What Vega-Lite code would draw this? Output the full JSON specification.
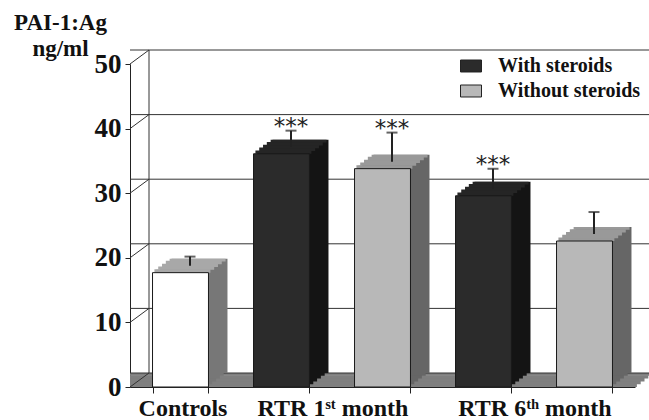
{
  "$schema": "https://vega.github.io/schema/vega-lite/v6.json",
  "width": 505,
  "height": 323,
  "autosize": "none",
  "padding": {"left": 130, "top": 64, "right": 14, "bottom": 33},
  "background": "white",
  "config": {
    "view": {"stroke": null},
    "font": "Liberation Serif",
    "axisY": {
      "titleAngle": 0,
      "titleX": -70,
      "titleY": -35,
      "titleAlign": "center",
      "titleBaseline": "alphabetic",
      "titleFont": "Liberation Serif",
      "titleFontSize": 23,
      "titleFontWeight": "bold",
      "titleLineHeight": 26,
      "titleColor": "#111111",
      "grid": false,
      "tickCount": 5,
      "tickSize": 5,
      "tickColor": "#222222",
      "domainColor": "#222222",
      "labelFont": "Liberation Serif",
      "labelFontSize": 27,
      "labelFontWeight": "bold",
      "labelColor": "#111111",
      "labelPadding": 4,
      "zindex": 1
    }
  },
  "datasets": {
    "bars": [
      {"bar": "C", "group": "Controls", "value": 17.7, "upper": 19.1, "sig": ""},
      {"bar": "R1W", "group": "With steroids", "value": 36.1, "upper": 38.6, "sig": "***"},
      {"bar": "R1N", "group": "Without steroids", "value": 33.8, "upper": 38.3, "sig": "***"},
      {"bar": "R6W", "group": "With steroids", "value": 29.6, "upper": 32.7, "sig": "***"},
      {"bar": "R6N", "group": "Without steroids", "value": 22.6, "upper": 26.0, "sig": ""}
    ],
    "ticks": [{"v": 0}, {"v": 10}, {"v": 20}, {"v": 30}, {"v": 40}, {"v": 50}]
  },
  "layer": [
    {
      "data": {"name": "ticks"},
      "transform": [{"filter": "datum.v === 0"}],
      "encoding": {
        "y": {"field": "v", "type": "quantitative", "title": ["PAI-1:Ag", "ng/ml"], "scale": {"domain": [0, 50], "nice": false}},
        "y2": {"field": "v"}
      },
      "layer": [
        {"mark": {"type": "rect", "fill": "#7f7f7f", "xOffset": 1.9, "x2Offset": 19, "yOffset": -3.4, "y2Offset": 0}},
        {"mark": {"type": "rect", "fill": "#7f7f7f", "xOffset": 5.7, "x2Offset": 19, "yOffset": -6.2, "y2Offset": -2.8}},
        {"mark": {"type": "rect", "fill": "#7f7f7f", "xOffset": 9.5, "x2Offset": 19, "yOffset": -9.0, "y2Offset": -5.6}},
        {"mark": {"type": "rect", "fill": "#7f7f7f", "xOffset": 13.3, "x2Offset": 19, "yOffset": -11.8, "y2Offset": -8.4}},
        {"mark": {"type": "rect", "fill": "#7f7f7f", "xOffset": 17.1, "x2Offset": 19, "yOffset": -14, "y2Offset": -11.2}}
      ]
    },
    {
      "data": {"name": "ticks"},
      "layer": [
        {
          "mark": {"type": "rule", "color": "#333333", "strokeWidth": 1, "xOffset": 19, "x2Offset": 19, "yOffset": -14},
          "encoding": {"y": {"field": "v", "type": "quantitative", "title": ["PAI-1:Ag", "ng/ml"]}}
        },
        {
          "mark": {"type": "rule", "color": "#333333", "strokeWidth": 1, "y2Offset": -14},
          "encoding": {
            "x": {"value": 0},
            "x2": {"value": 19},
            "y": {"field": "v", "type": "quantitative", "title": ["PAI-1:Ag", "ng/ml"]},
            "y2": {"field": "v"}
          }
        },
        {
          "transform": [{"filter": "datum.v === 0"}],
          "mark": {"type": "rule", "color": "#333333", "strokeWidth": 1, "xOffset": 19, "yOffset": -14, "y2Offset": -14},
          "encoding": {
            "x": {"value": 0},
            "y": {"datum": 0, "type": "quantitative", "title": ["PAI-1:Ag", "ng/ml"]},
            "y2": {"datum": 50}
          }
        }
      ]
    },
    {
      "data": {"name": "bars"},
      "encoding": {
        "x": {
          "field": "bar",
          "type": "nominal",
          "sort": ["C", "R1W", "R1N", "R6W", "R6N"],
          "scale": {"paddingInner": 0.446, "paddingOuter": 0.223},
          "axis": {
            "title": null,
            "labelExpr": "datum.value === 'C' ? 'Controls' : datum.value === 'R1W' ? 'RTR 1ˢᵗ month' : datum.value === 'R6W' ? 'RTR 6ᵗʰ month' : ''",
            "labelOffset": {"condition": {"test": "datum.value === 'C'", "value": 2}, "value": 51},
            "labelAngle": 0,
            "labelOverlap": false,
            "labelLimit": 0,
            "tickBand": "extent",
            "tickSize": 6,
            "tickColor": "#222222",
            "domainColor": "#222222",
            "labelFont": "Liberation Serif",
            "labelFontWeight": "bold",
            "labelFontSize": 24,
            "labelColor": "#111111",
            "labelPadding": 3,
            "zindex": 1
          }
        },
        "y": {"field": "value", "type": "quantitative", "title": ["PAI-1:Ag", "ng/ml"]}
      },
      "layer": [
        {"mark": {"type": "bar", "xOffset": 3.8, "yOffset": -2.8, "y2Offset": -2.8}, "encoding": {"y2": {"datum": 0}, "fill": {"condition": [{"test": "datum.group === 'Controls'", "value": "#777777"}, {"test": "datum.group === 'With steroids'", "value": "#141414"}], "value": "#666666"}}},
        {"mark": {"type": "bar", "xOffset": 7.6, "yOffset": -5.6, "y2Offset": -5.6}, "encoding": {"y2": {"datum": 0}, "fill": {"condition": [{"test": "datum.group === 'Controls'", "value": "#777777"}, {"test": "datum.group === 'With steroids'", "value": "#141414"}], "value": "#666666"}}},
        {"mark": {"type": "bar", "xOffset": 11.4, "yOffset": -8.4, "y2Offset": -8.4}, "encoding": {"y2": {"datum": 0}, "fill": {"condition": [{"test": "datum.group === 'Controls'", "value": "#777777"}, {"test": "datum.group === 'With steroids'", "value": "#141414"}], "value": "#666666"}}},
        {"mark": {"type": "bar", "xOffset": 15.2, "yOffset": -11.2, "y2Offset": -11.2}, "encoding": {"y2": {"datum": 0}, "fill": {"condition": [{"test": "datum.group === 'Controls'", "value": "#777777"}, {"test": "datum.group === 'With steroids'", "value": "#141414"}], "value": "#666666"}}},
        {"mark": {"type": "bar", "xOffset": 19, "yOffset": -14, "y2Offset": -14}, "encoding": {"y2": {"datum": 0}, "fill": {"condition": [{"test": "datum.group === 'Controls'", "value": "#777777"}, {"test": "datum.group === 'With steroids'", "value": "#141414"}], "value": "#666666"}}},
        {"mark": {"type": "bar", "xOffset": 1.9, "yOffset": -3.4, "y2Offset": 0}, "encoding": {"y2": {"field": "value"}, "fill": {"condition": [{"test": "datum.group === 'Controls'", "value": "#a8a8a8"}, {"test": "datum.group === 'With steroids'", "value": "#252525"}], "value": "#999999"}}},
        {"mark": {"type": "bar", "xOffset": 5.7, "yOffset": -6.2, "y2Offset": -2.8}, "encoding": {"y2": {"field": "value"}, "fill": {"condition": [{"test": "datum.group === 'Controls'", "value": "#a8a8a8"}, {"test": "datum.group === 'With steroids'", "value": "#252525"}], "value": "#999999"}}},
        {"mark": {"type": "bar", "xOffset": 9.5, "yOffset": -9.0, "y2Offset": -5.6}, "encoding": {"y2": {"field": "value"}, "fill": {"condition": [{"test": "datum.group === 'Controls'", "value": "#a8a8a8"}, {"test": "datum.group === 'With steroids'", "value": "#252525"}], "value": "#999999"}}},
        {"mark": {"type": "bar", "xOffset": 13.3, "yOffset": -11.8, "y2Offset": -8.4}, "encoding": {"y2": {"field": "value"}, "fill": {"condition": [{"test": "datum.group === 'Controls'", "value": "#a8a8a8"}, {"test": "datum.group === 'With steroids'", "value": "#252525"}], "value": "#999999"}}},
        {"mark": {"type": "bar", "xOffset": 17.1, "yOffset": -14, "y2Offset": -11.2}, "encoding": {"y2": {"field": "value"}, "fill": {"condition": [{"test": "datum.group === 'Controls'", "value": "#a8a8a8"}, {"test": "datum.group === 'With steroids'", "value": "#252525"}], "value": "#999999"}}},
        {
          "mark": {"type": "bar", "stroke": "#1a1a1a", "strokeWidth": 1},
          "encoding": {
            "y2": {"datum": 0},
            "color": {
              "field": "group",
              "type": "nominal",
              "scale": {"domain": ["With steroids", "Without steroids", "Controls"], "range": ["#2b2b2b", "#b8b8b8", "#ffffff"]},
              "legend": {
                "title": null,
                "orient": "none",
                "legendX": 330,
                "legendY": -9,
                "values": ["With steroids", "Without steroids"],
                "symbolType": "M-1,-0.571H1V0.571H-1Z",
                "symbolSize": 441,
                "symbolStrokeColor": "#222222",
                "symbolStrokeWidth": 1,
                "labelFont": "Liberation Serif",
                "labelFontSize": 20,
                "labelFontWeight": "bold",
                "labelColor": "#111111",
                "labelOffset": 16,
                "rowPadding": 4,
                "padding": 0
              }
            }
          }
        },
        {
          "mark": {"type": "rule", "xOffset": 9.5, "yOffset": -7, "y2Offset": -7, "strokeWidth": 2, "color": "#222222"},
          "encoding": {"y2": {"field": "upper"}}
        },
        {
          "mark": {"type": "tick", "orient": "horizontal", "xOffset": 9.5, "yOffset": -7, "size": 11, "thickness": 2, "color": "#222222"},
          "encoding": {"y": {"field": "upper", "type": "quantitative", "title": ["PAI-1:Ag", "ng/ml"]}}
        },
        {
          "mark": {"type": "text", "xOffset": 9.5, "yOffset": -7, "dy": 3, "baseline": "alphabetic", "align": "center", "font": "DejaVu Sans", "fontSize": 23, "fontWeight": "normal", "color": "#222222"},
          "encoding": {"y": {"field": "upper", "type": "quantitative", "title": ["PAI-1:Ag", "ng/ml"]}, "text": {"field": "sig"}}
        }
      ]
    }
  ]
}
